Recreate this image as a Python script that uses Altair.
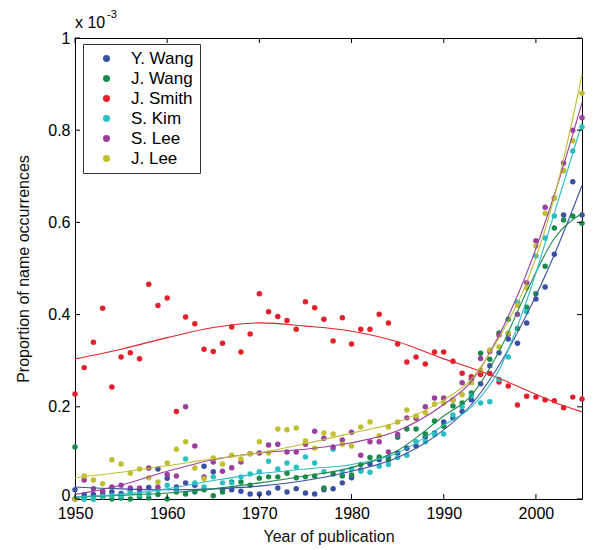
import altair as alt
import pandas as pd

FONT = "Liberation Sans"

years = list(range(1950, 2006))
names = ["Y. Wang", "J. Wang", "J. Smith", "S. Kim", "S. Lee", "J. Lee"]
colors = ["#3b4fa3", "#1c8a4c", "#e3202b", "#2abfc1", "#9b3e9e", "#bfbf2f"]

# observed proportions (x 10^-3), one value per year 1950..2005
y_wang = [0.020, 0.009, 0.010, 0.013, 0.015, 0.012, 0.018, 0.020, 0.025, 0.065,
          0.045, 0.026, 0.035, 0.030, 0.071, 0.059, 0.020, 0.020, 0.017, 0.011,
          0.011, 0.013, 0.024, 0.015, 0.022, 0.013, 0.011, 0.020, 0.022, 0.035,
          0.046, 0.063, 0.076, 0.085, 0.090, 0.100, 0.110, 0.115, 0.134, 0.143,
          0.167, 0.176, 0.190, 0.215, 0.250, 0.289, 0.317, 0.347, 0.338, 0.382,
          0.434, 0.460, 0.531, 0.616, 0.688, 0.616]
j_wang = [0.113, 0.000, 0.000, 0.005, 0.000, 0.002, 0.000, 0.005, 0.002, 0.010,
          0.000, 0.015, 0.011, 0.015, 0.020, 0.007, 0.015, 0.037, 0.037, 0.030,
          0.045, 0.048, 0.048, 0.056, 0.046, 0.048, 0.050, 0.024, 0.054, 0.050,
          0.052, 0.075, 0.090, 0.091, 0.085, 0.134, 0.152, 0.152, 0.141, 0.169,
          0.158, 0.202, 0.208, 0.230, 0.316, 0.303, 0.360, 0.390, 0.370, 0.416,
          0.445, 0.505, 0.588, 0.605, 0.614, 0.598]
j_smith = [0.228, 0.285, 0.340, 0.414, 0.243, 0.308, 0.317, 0.304, 0.466, 0.420,
           0.436, 0.190, 0.395, 0.380, 0.325, 0.320, 0.338, 0.373, 0.319, 0.358,
           0.445, 0.406, 0.396, 0.387, 0.368, 0.428, 0.415, 0.390, 0.343, 0.393,
           0.336, 0.368, 0.368, 0.401, 0.382, 0.336, 0.297, 0.308, 0.293, 0.319,
           0.319, 0.299, 0.273, 0.265, 0.270, 0.272, 0.254, 0.245, 0.204, 0.223,
           0.221, 0.215, 0.213, 0.198, 0.221, 0.217]
s_kim = [0.000, 0.000, 0.000, 0.005, 0.007, 0.007, 0.015, 0.009, 0.011, 0.020,
         0.030, 0.020, 0.087, 0.035, 0.026, 0.048, 0.035, 0.035, 0.048, 0.054,
         0.059, 0.082, 0.065, 0.078, 0.069, 0.091, 0.078, 0.059, 0.108, 0.059,
         0.065, 0.060, 0.058, 0.071, 0.075, 0.090, 0.095, 0.124, 0.124, 0.140,
         0.141, 0.182, 0.200, 0.224, 0.208, 0.211, 0.260, 0.308, 0.427, 0.406,
         0.527, 0.566, 0.614, 0.712, 0.755, 0.807]
s_lee = [0.000, 0.041, 0.022, 0.017, 0.026, 0.030, 0.024, 0.024, 0.067, 0.026,
         0.053, 0.050, 0.200, 0.115, 0.048, 0.080, 0.060, 0.068, 0.080, 0.098,
         0.100, 0.117, 0.119, 0.102, 0.102, 0.119, 0.147, 0.132, 0.113, 0.128,
         0.145, 0.095, 0.124, 0.124, 0.102, 0.140, 0.176, 0.175, 0.200, 0.219,
         0.219, 0.215, 0.252, 0.260, 0.305, 0.320, 0.356, 0.358, 0.401, 0.469,
         0.560, 0.633, 0.653, 0.729, 0.800, 0.827]
j_lee = [0.000, 0.050, 0.041, 0.033, 0.085, 0.076, 0.056, 0.065, 0.046, 0.037,
         0.078, 0.108, 0.124, 0.067, 0.044, 0.089, 0.076, 0.095, 0.087, 0.098,
         0.124, 0.100, 0.152, 0.150, 0.154, 0.126, 0.110, 0.143, 0.141, 0.119,
         0.115, 0.156, 0.167, 0.137, 0.156, 0.167, 0.193, 0.180, 0.187, 0.206,
         0.208, 0.215, 0.226, 0.252, 0.280, 0.323, 0.330, 0.360, 0.420, 0.458,
         0.549, 0.620, 0.653, 0.712, 0.777, 0.880]

# fitted curves
curve_years = [1950, 1955, 1960, 1965, 1970, 1975, 1980, 1985, 1990, 1993, 1996, 1999, 2002, 2005]
fit_y_wang = [0.026, 0.022, 0.020, 0.022, 0.028, 0.040, 0.060, 0.090, 0.150, 0.205, 0.290, 0.400, 0.530, 0.680]
fit_j_wang = [0.004, 0.008, 0.013, 0.022, 0.035, 0.050, 0.068, 0.105, 0.180, 0.225, 0.320, 0.450, 0.565, 0.620]
fit_j_smith = [0.304, 0.325, 0.350, 0.372, 0.382, 0.375, 0.364, 0.341, 0.304, 0.284, 0.262, 0.236, 0.210, 0.189]
fit_s_kim = [0.005, 0.010, 0.022, 0.040, 0.055, 0.065, 0.075, 0.100, 0.160, 0.200, 0.280, 0.430, 0.620, 0.815]
fit_s_lee = [0.010, 0.030, 0.060, 0.085, 0.100, 0.108, 0.122, 0.148, 0.205, 0.255, 0.355, 0.490, 0.660, 0.860]
fit_j_lee = [0.046, 0.058, 0.072, 0.087, 0.100, 0.120, 0.143, 0.167, 0.215, 0.260, 0.350, 0.470, 0.655, 0.920]

x_ticks = [1950, 1960, 1970, 1980, 1990, 2000]
y_ticks = [0, 0.2, 0.4, 0.6, 0.8, 1]

W, H = 507, 461

pt_rows = []
for n, vals in zip(names, [y_wang, j_wang, j_smith, s_kim, s_lee, j_lee]):
    for yr, v in zip(years, vals):
        pt_rows.append({"name": n, "year": yr, "value": v})
points = pd.DataFrame(pt_rows)

cv_rows = []
for n, vals in zip(names, [fit_y_wang, fit_j_wang, fit_j_smith, fit_s_kim, fit_s_lee, fit_j_lee]):
    for yr, v in zip(curve_years, vals):
        cv_rows.append({"name": n, "year": yr, "value": v})
curves = pd.DataFrame(cv_rows)

xscale = alt.Scale(domain=[1950, 2005], nice=False, zero=False)
yscale = alt.Scale(domain=[0, 1], nice=False, zero=True)
cscale = alt.Scale(domain=names, range=colors)

xaxis = alt.Axis(values=x_ticks, format="d", title="Year of publication", ticks=False,
                 domain=False, grid=False, labelPadding=6, titlePadding=7, labelFlush=False,
                 labelFont=FONT, titleFont=FONT, labelFontSize=16, titleFontSize=16,
                 labelColor="black", titleColor="#111", titleFontWeight="normal")
yaxis = alt.Axis(values=y_ticks, format="~g", title="Proportion of name occurrences",
                 ticks=False, domain=False, grid=False, labelPadding=5, titlePadding=16,
                 labelFlush=False,
                 labelOffset={"condition": {"test": "datum.value == 0", "value": -4}, "value": 0},
                 labelFont=FONT, titleFont=FONT, labelFontSize=16, titleFontSize=16,
                 labelColor="black", titleColor="#111", titleFontWeight="normal")

X = alt.X("year:Q", scale=xscale, axis=xaxis)
Y = alt.Y("value:Q", scale=yscale, axis=yaxis)

pts = alt.Chart(points).mark_circle(size=30, opacity=1).encode(
    x=X, y=Y,
    color=alt.Color("name:N", scale=cscale, sort=names,
                    legend=alt.Legend(title=None, orient="none", legendX=8, legendY=6,
                                      symbolType="circle", symbolSize=30,
                                      labelFontSize=17, labelFont=FONT, labelColor="black",
                                      padding=6, rowPadding=2,
                                      symbolOffset=9, labelOffset=16,
                                      strokeColor="#333", fillColor="white",
                                      labelExpr="datum.label + '\u00a0\u00a0'")),
)

lines = alt.Chart(curves).mark_line(strokeWidth=1.1, interpolate="monotone").encode(
    x=X, y=Y,
    color=alt.Color("name:N", scale=cscale, sort=names, legend=None),
    detail="name:N",
)

xt = pd.DataFrame({"year": x_ticks})
yt = pd.DataFrame({"value": y_ticks})
tick_b = alt.Chart(xt).mark_rule(color="black").encode(
    x=X, y=alt.value(H), y2=alt.value(H - 5))
tick_t = alt.Chart(xt).mark_rule(color="black").encode(
    x=X, y=alt.value(0), y2=alt.value(5))
tick_l = alt.Chart(yt).mark_rule(color="black").encode(
    y=Y, x=alt.value(0), x2=alt.value(5))
tick_r = alt.Chart(yt).mark_rule(color="black").encode(
    y=Y, x=alt.value(W), x2=alt.value(W - 5))

exp_base = alt.Chart(pd.DataFrame({"t": ["x 10"]})).mark_text(
    align="left", baseline="alphabetic", fontSize=16, font=FONT, color="black"
).encode(text="t:N", x=alt.value(0), y=alt.value(-10))
exp_sup = alt.Chart(pd.DataFrame({"t": ["-3"]})).mark_text(
    align="left", baseline="alphabetic", fontSize=11, font=FONT, color="black"
).encode(text="t:N", x=alt.value(32), y=alt.value(-20))

chart = alt.layer(pts, lines, tick_b, tick_t, tick_l, tick_r, exp_base, exp_sup).properties(
    width=W, height=H,
    background="white",
    autosize=alt.AutoSizeParams(type="none"),
    padding={"left": 67, "top": 30, "right": 10, "bottom": 50},
).configure_view(stroke="black", strokeWidth=1)

chart.save("out.html", embed_options={"renderer": "svg", "actions": False})
